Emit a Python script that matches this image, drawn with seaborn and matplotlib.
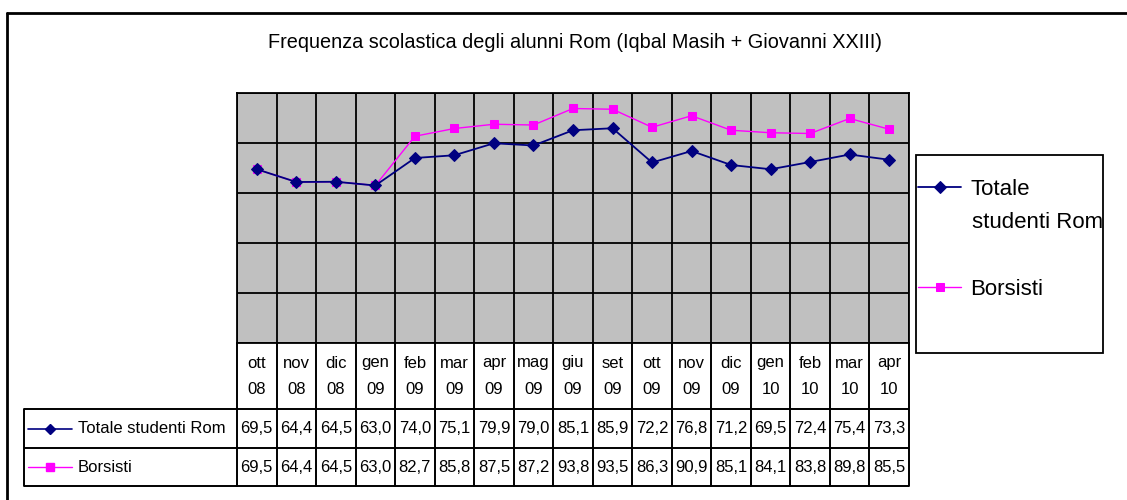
import numpy as np
import matplotlib
matplotlib.use("Agg")
import matplotlib.pyplot as plt
from matplotlib.lines import Line2D
from matplotlib.patches import Rectangle
import seaborn as sns

# ---------------- data ----------------
months = ["ott", "nov", "dic", "gen", "feb", "mar", "apr", "mag", "giu", "set",
          "ott", "nov", "dic", "gen", "feb", "mar", "apr"]
years = ["08", "08", "08", "09", "09", "09", "09", "09", "09", "09",
         "09", "09", "09", "10", "10", "10", "10"]
totale = [69.5, 64.4, 64.5, 63.0, 74.0, 75.1, 79.9, 79.0, 85.1, 85.9,
          72.2, 76.8, 71.2, 69.5, 72.4, 75.4, 73.3]
borsisti = [69.5, 64.4, 64.5, 63.0, 82.7, 85.8, 87.5, 87.2, 93.8, 93.5,
            86.3, 90.9, 85.1, 84.1, 83.8, 89.8, 85.5]
series_names = ["Totale studenti Rom", "Borsisti"]
title = "Frequenza scolastica degli alunni Rom (Iqbal Masih + Giovanni XXIII)"

# ---------------- style ----------------
sns.set_style("white")
plt.rcParams["font.family"] = ["Liberation Sans", "DejaVu Sans"]
plt.rcParams["text.color"] = "black"

NAVY = "#000080"
MAG = "#FF00FF"
W, H = 1127, 500

fig = plt.figure(figsize=(W / 100, H / 100), dpi=100)
fig.patch.set_facecolor("white")

def fx(px):
    return px / W

def fy(py):
    return 1 - py / H

L, R, T, B = 237, 909, 93, 343
ax = fig.add_axes([fx(L), fy(B), (R - L) / W, (B - T) / H])
n = len(months)
x = np.arange(n)

# Borsisti first so the Totale series sits on top where they coincide
sns.lineplot(x=x, y=borsisti, ax=ax, color=MAG, marker="s", markersize=6,
             markeredgecolor=MAG, markerfacecolor=MAG, linewidth=1.0,
             errorbar=None, legend=False)
sns.lineplot(x=x, y=totale, ax=ax, color=NAVY, marker="D", markersize=6.5,
             markeredgecolor=NAVY, markerfacecolor=NAVY, linewidth=1.3,
             errorbar=None, legend=False)
h_bor, h_tot = ax.lines[0], ax.lines[1]

ax.set_facecolor("#C0C0C0")
ax.set_xlim(-0.5, n - 0.5)
ax.set_ylim(0, 100)
ax.set_yticks(np.arange(0, 101, 20))
ax.set_xticks(np.arange(-0.5, n, 1))
ax.grid(True, color="black", linewidth=1.3)
ax.tick_params(length=0, labelbottom=False, labelleft=False)
ax.set_xlabel("")
ax.set_ylabel("")
for s in ax.spines.values():
    s.set_color("black")
    s.set_linewidth(1.3)
ax.set_axisbelow(True)

# ---------------- title ----------------
fig.text(fx(575), fy(43), title, ha="center", va="center",
         fontsize=14.3, color="black")

# ---------------- data table ----------------
TL, TB = 24, 486
tab = fig.add_axes([fx(TL), fy(TB), (R - TL) / W, (TB - B) / H])
tab.set_xlim(TL, R)
tab.set_ylim(TB, B)
tab.axis("off")
col_w = (R - L) / n
lw = 1.4
r1, r2 = 409, 448
for yy in (r1, r2, TB):
    tab.plot([TL, R], [yy, yy], color="black", lw=lw, solid_capstyle="butt",
             clip_on=False)
tab.plot([TL, TL], [r1, TB], color="black", lw=lw, clip_on=False)
for i in range(n + 1):
    xx = L + i * col_w
    tab.plot([xx, xx], [B, TB], color="black", lw=lw, clip_on=False)

fs_tab = 12
for i in range(n):
    cx = L + (i + 0.5) * col_w
    tab.text(cx, 363, months[i], ha="center", va="center", fontsize=fs_tab)
    tab.text(cx, 390, years[i], ha="center", va="center", fontsize=fs_tab)
    tab.text(cx, (r1 + r2) / 2, f"{totale[i]:.1f}".replace(".", ","),
             ha="center", va="center", fontsize=fs_tab)
    tab.text(cx, (r2 + TB) / 2, f"{borsisti[i]:.1f}".replace(".", ","),
             ha="center", va="center", fontsize=fs_tab)

# row labels with keys
styles = [dict(color=NAVY, marker="D", ms=5, lw=1.2),
          dict(color=MAG, marker="s", ms=6, lw=1.0)]
for j, (yy, name) in enumerate([((r1 + r2) / 2, series_names[0]),
                                ((r2 + TB) / 2, series_names[1])]):
    tab.plot([28, 50, 72], [yy, yy, yy], markevery=[1], clip_on=False,
             **styles[j])
    tab.text(78, yy, name, ha="left", va="center", fontsize=fs_tab)

# ---------------- legend ----------------
fs_leg = 16
leg_words = series_names[0].split(" ", 1)   # "Totale" / "studenti Rom"
fig.legend([h_tot, h_bor], [leg_words[0], series_names[1]], loc="upper left",
           bbox_to_anchor=(fx(918), fy(179)), frameon=False,
           fontsize=fs_leg, labelspacing=3.55, handlelength=1.95,
           handletextpad=0.4, borderpad=0, borderaxespad=0)
fig.text(fx(972), fy(222), leg_words[1], ha="left", va="center",
         fontsize=fs_leg, color="black")
fig.add_artist(Rectangle((fx(916), fy(353)), (1103 - 916) / W, (353 - 155) / H,
                         transform=fig.transFigure, fill=False,
                         edgecolor="black", lw=1.3))

# ---------------- outer chart border ----------------
fig.add_artist(Line2D([fx(7), 1.0], [fy(13), fy(13)], transform=fig.transFigure,
                      color="black", lw=2))
fig.add_artist(Line2D([fx(7), fx(7)], [fy(13), 0.0], transform=fig.transFigure,
                      color="black", lw=2))

fig.savefig("out.png", dpi=100)
